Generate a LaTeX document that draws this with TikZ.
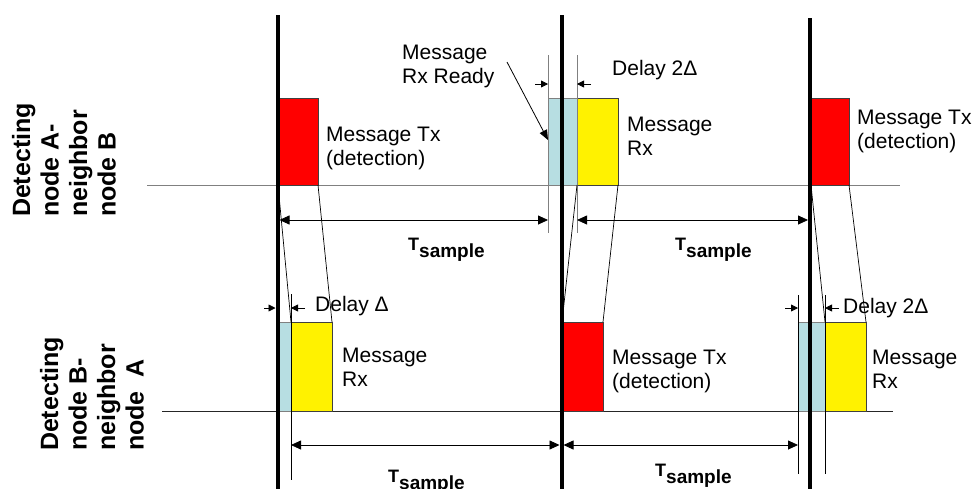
\documentclass[tikz,border=0pt]{standalone}
\usepackage{fontspec}
\setmainfont{Liberation Sans}
\usetikzlibrary{arrows.meta}
\definecolor{lblue}{RGB}{183,222,226}
\definecolor{tlgray}{RGB}{128,128,128}
\newcommand\Tsam{{\fontsize{18}{18}\selectfont\bfseries T\raisebox{-7pt}{\fontsize{19}{19}\selectfont sample}}}
\tikzset{
  box/.style={draw=black!75, line width=0.7pt, inner sep=0pt, outer sep=0pt, anchor=south west},
  redbox/.style={box, fill=red},
  yelbox/.style={box, fill=yellow},
  bluebox/.style={box, fill=lblue, draw=tlgray},
  lbl/.style={font=\fontsize{21}{24}\selectfont, align=left, inner sep=0pt, anchor=west},
  side/.style={font=\fontsize{25}{28.5}\selectfont\bfseries, align=left, inner sep=0pt, rotate=90},
  tsl/.style={inner sep=0pt, anchor=base west},
  epoch/.style={line width=4pt, black},
  tline/.style={line width=1pt, tlgray},
  bline/.style={line width=1pt, black!85},
  guide/.style={line width=0.9pt},
  slant/.style={line width=0.7pt, black},
  dim/.style={line width=0.8pt, {Triangle[length=10pt,width=9pt]}-{Triangle[length=10pt,width=9pt]}},
  small/.style={line width=0.8pt, -{Triangle[length=7pt,width=7pt]}},
  pointer/.style={line width=0.8pt, -{Triangle[length=10pt,width=8pt]}}
}
\begin{document}
\begin{tikzpicture}[x=1pt,y=-1pt]
\useasboundingbox (0,0) rectangle (976,488);
% timelines
\coordinate (ta) at (147,185); \coordinate (tb) at (900,185);
\coordinate (ba) at (162,411); \coordinate (bb) at (893,411);
\draw[tline] (ta) -- (tb);
\draw[bline] (ba) -- (bb);
% top boxes
\node[redbox, minimum width=40pt, minimum height=87pt] (r1) at (278,185) {};
\node[bluebox, minimum width=29pt, minimum height=87pt] (b1) at (548,185) {};
\node[yelbox, minimum width=41pt, minimum height=87pt] (y1) at (577,185) {};
\node[redbox, minimum width=38pt, minimum height=87pt] (r2) at (811,185) {};
% bottom boxes
\node[bluebox, minimum width=13pt, minimum height=89pt] (b2) at (278,411) {};
\node[yelbox, minimum width=41pt, minimum height=89pt] (y2) at (291,411) {};
\node[redbox, minimum width=41pt, minimum height=89pt] (r3) at (562,411) {};
\node[bluebox, minimum width=27pt, minimum height=89pt] (b3) at (798,411) {};
\node[yelbox, minimum width=41pt, minimum height=89pt] (y3) at (825,411) {};
% guides
\coordinate (g1a) at (548,55); \coordinate (g1b) at (548,233);
\coordinate (g2a) at (577,55); \coordinate (g2b) at (577,233);
\coordinate (g3a) at (291,294); \coordinate (g3b) at (291,480);
\coordinate (g4a) at (798,295); \coordinate (g4b) at (798,474);
\coordinate (g5a) at (825,295); \coordinate (g5b) at (825,474);
\draw[guide, tlgray] (g1a) -- (g1b);
\draw[guide, tlgray] (g2a) -- (g2b);
\draw[guide, black] (g3a) -- (g3b);
\draw[guide, black] (g4a) -- (g4b);
\draw[guide, black] (g5a) -- (g5b);
% slanted propagation lines
\draw[slant] (r1.south west) -- (y2.north west);
\draw[slant] (r1.south east) -- (y2.north east);
\draw[slant] (y1.south west) -- (r3.north west);
\draw[slant] (y1.south east) -- (r3.north east);
\draw[slant] (r2.south west) -- (y3.north west);
\draw[slant] (r2.south east) -- (y3.north east);
% epoch lines
\coordinate (e1a) at (277.5,15); \coordinate (e1b) at (277.5,490);
\coordinate (e2a) at (561.5,15); \coordinate (e2b) at (561.5,490);
\coordinate (e3a) at (810,18); \coordinate (e3b) at (810,490);
\draw[epoch] (e1a) -- (e1b);
\draw[epoch] (e2a) -- (e2b);
\draw[epoch] (e3a) -- (e3b);
% dimension arrows
\coordinate (d1a) at (279.5,220); \coordinate (d1b) at (548,220);
\coordinate (d2a) at (577,220); \coordinate (d2b) at (808,220);
\coordinate (d3a) at (291,445); \coordinate (d3b) at (559.5,445);
\coordinate (d4a) at (563.5,445); \coordinate (d4b) at (798,445);
\draw[dim] (d1a) -- (d1b);
\draw[dim] (d2a) -- (d2b);
\draw[dim] (d3a) -- (d3b);
\draw[dim] (d4a) -- (d4b);
% delay arrows
\coordinate (s1a) at (535,84); \coordinate (s1b) at (548,84);
\coordinate (s2a) at (591,84); \coordinate (s2b) at (577,84);
\coordinate (s3a) at (264,308); \coordinate (s3b) at (275.5,308);
\coordinate (s4a) at (305,308); \coordinate (s4b) at (291,308);
\coordinate (s5a) at (785,308); \coordinate (s5b) at (798,308);
\coordinate (s6a) at (839,308); \coordinate (s6b) at (825,308);
\draw[small] (s1a) -- (s1b);
\draw[small] (s2a) -- (s2b);
\draw[small] (s3a) -- (s3b);
\draw[small] (s4a) -- (s4b);
\draw[small] (s5a) -- (s5b);
\draw[small] (s6a) -- (s6b);
% pointer
\coordinate (pa) at (507,62); \coordinate (pb) at (548,140);
\draw[pointer] (pa) -- (pb);
% labels
\node[lbl] (t1) at (326,148) {Message Tx\\(detection)};
\node[lbl] (t2) at (627,136) {Message\\Rx};
\node[lbl] (t3) at (857,131) {Message Tx\\(detection)};
\node[lbl] (t4) at (402,66) {Message\\Rx Ready};
\node[lbl] (t5) at (612,70) {Delay 2Δ};
\node[lbl] (t6) at (315,306) {Delay Δ};
\node[lbl] (t7) at (342,367) {Message\\Rx};
\node[lbl] (t8) at (612,371) {Message Tx\\(detection)};
\node[lbl] (t9) at (872,369) {Message\\Rx};
\node[lbl] (t10) at (843,308) {Delay 2Δ};
\node[tsl] (ts1) at (408,250) {\Tsam};
\node[tsl] (ts2) at (675,250) {\Tsam};
\node[tsl] (ts3) at (388,482) {\Tsam};
\node[tsl] (ts4) at (655,476) {\Tsam};
\node[side] (sA) at (64,160) {Detecting\\node A-\\neighbor\\node B};
\node[side] (sB) at (92,394) {Detecting\\node B-\\neighbor\\node\ \ A};
\end{tikzpicture}
\end{document}
